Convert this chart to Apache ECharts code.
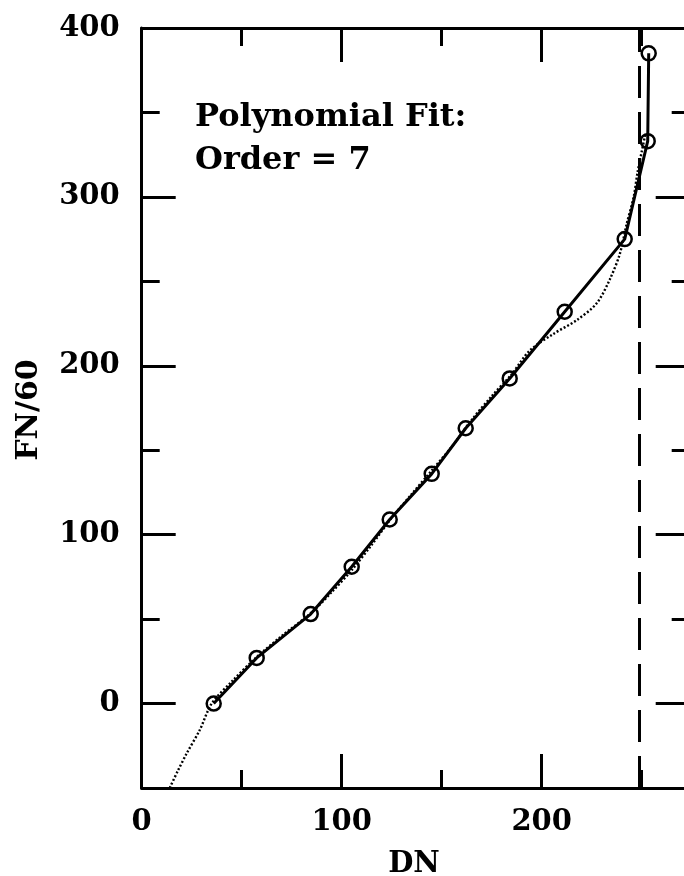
<!DOCTYPE html>
<html>
<head>
<meta charset="utf-8">
<script src="https://cdn.jsdelivr.net/npm/echarts@6/dist/echarts.min.js"></script>
<style>
  html, body { margin: 0; padding: 0; background: #fff; }
  #chart { width: 684px; height: 876px; }
</style>
</head>
<body>
<div id="chart"></div>
<script>
// measured points (circles, joined by solid line)
var dnPoints = [36, 57.5, 84.5, 105, 124, 145, 162, 184, 211.5, 241.5, 253, 253.5];
var fnPoints = [0, 27, 53, 81, 109, 136, 163, 192.5, 232, 275, 333, 385];

// polynomial fit (order 7)
var fitDN = [14, 18, 22.5, 29, 35, 45, 57, 70, 85, 95, 105, 115, 125, 135, 145, 155, 165, 175, 185, 194, 206, 217.5, 227.5, 234, 239, 242.5, 246, 248, 252];
var fitFN = [-50, -40, -29.5, -15.7, 0, 13, 27, 40, 54, 66, 79, 94, 110, 124, 138, 152, 168, 182, 195, 209, 219, 227, 237, 251, 266, 284, 300, 315, 338];

// vertical dashed limit
var limitDN = 249;

// ticks
var xMajor = [0, 100, 200];
var xMinor = [50, 150, 250];
var yMajor = [0, 100, 200, 300, 400];
var yMinor = [50, 150, 250, 350];

var FONT = 'DejaVu Serif';
var pointData = dnPoints.map(function (d, i) { return [d, fnPoints[i]]; });
var fitData = fitDN.map(function (d, i) { return [d, fitFN[i]]; });

function xAx(pos, vals, len, showLine, showLabel) {
    return {
        type: 'value', position: pos, min: 0, max: 274,
        axisLine: { show: showLine, onZero: false, lineStyle: { color: '#000', width: 3 } },
        axisTick: { show: true, inside: true, length: len, customValues: vals, lineStyle: { color: '#000', width: 3 } },
        axisLabel: { show: showLabel, customValues: vals, margin: 20, color: '#000', fontFamily: FONT, fontWeight: 'bold', fontSize: 29 },
        splitLine: { show: false }
    };
}
function yAx(pos, vals, len, showLine, showLabel) {
    return {
        type: 'value', position: pos, min: -50, max: 400,
        axisLine: { show: showLine, onZero: false, lineStyle: { color: '#000', width: 3 } },
        axisTick: { show: true, inside: true, length: len, customValues: vals, lineStyle: { color: '#000', width: 3 } },
        axisLabel: { show: showLabel, customValues: vals, margin: 22, color: '#000', fontFamily: FONT, fontWeight: 'bold', fontSize: 29 },
        splitLine: { show: false }
    };
}

var chart = echarts.init(document.getElementById('chart'), null, { renderer: 'canvas' });
chart.setOption({
    backgroundColor: '#fff',
    animation: false,
    grid: { left: 141.7, top: 28, right: -5.7, bottom: 88, containLabel: false, outerBoundsMode: 'none' },
    xAxis: [
        xAx('bottom', xMajor, 34, true, true),
        xAx('bottom', xMinor, 18, false, false),
        xAx('top', xMajor, 34, true, false),
        xAx('top', xMinor, 18, false, false)
    ],
    yAxis: [
        yAx('left', yMajor, 34, true, true),
        yAx('left', yMinor, 18, false, false),
        yAx('right', yMajor, 34, true, false),
        yAx('right', yMinor, 18, false, false)
    ],
    graphic: [
        { type: 'text', left: 195, top: 102, style: { text: 'Polynomial Fit:', fill: '#000', font: 'bold 32px "DejaVu Serif"' } },
        { type: 'text', left: 195, top: 145, style: { text: 'Order = 7', fill: '#000', font: 'bold 32px "DejaVu Serif"' } },
        { type: 'text', x: 414, y: 864, style: { text: 'DN', fill: '#000', font: 'bold 29px "DejaVu Serif"', align: 'center', verticalAlign: 'middle' } },
        { type: 'text', x: 29, y: 410, rotation: Math.PI / 2, style: { text: 'FN/60', fill: '#000', font: 'bold 30px "DejaVu Serif"', align: 'center', verticalAlign: 'middle' } }
    ],
    series: [
        {
            type: 'line', xAxisIndex: 0, yAxisIndex: 0,
            data: fitData, smooth: 0.3, showSymbol: false,
            lineStyle: { color: '#000', width: 2.4, type: [2, 2] },
            z: 2
        },
        {
            type: 'line', xAxisIndex: 0, yAxisIndex: 0,
            data: pointData, symbol: 'circle', symbolSize: 14,
            itemStyle: { color: 'rgba(0,0,0,0)', borderColor: '#000', borderWidth: 2.5 },
            lineStyle: { color: '#000', width: 3 },
            markLine: {
                silent: true, symbol: 'none', label: { show: false },
                lineStyle: { color: '#000', width: 3, type: [32, 14] },
                data: [{ xAxis: limitDN }]
            },
            z: 3
        }
    ]
});
</script>
</body>
</html>
